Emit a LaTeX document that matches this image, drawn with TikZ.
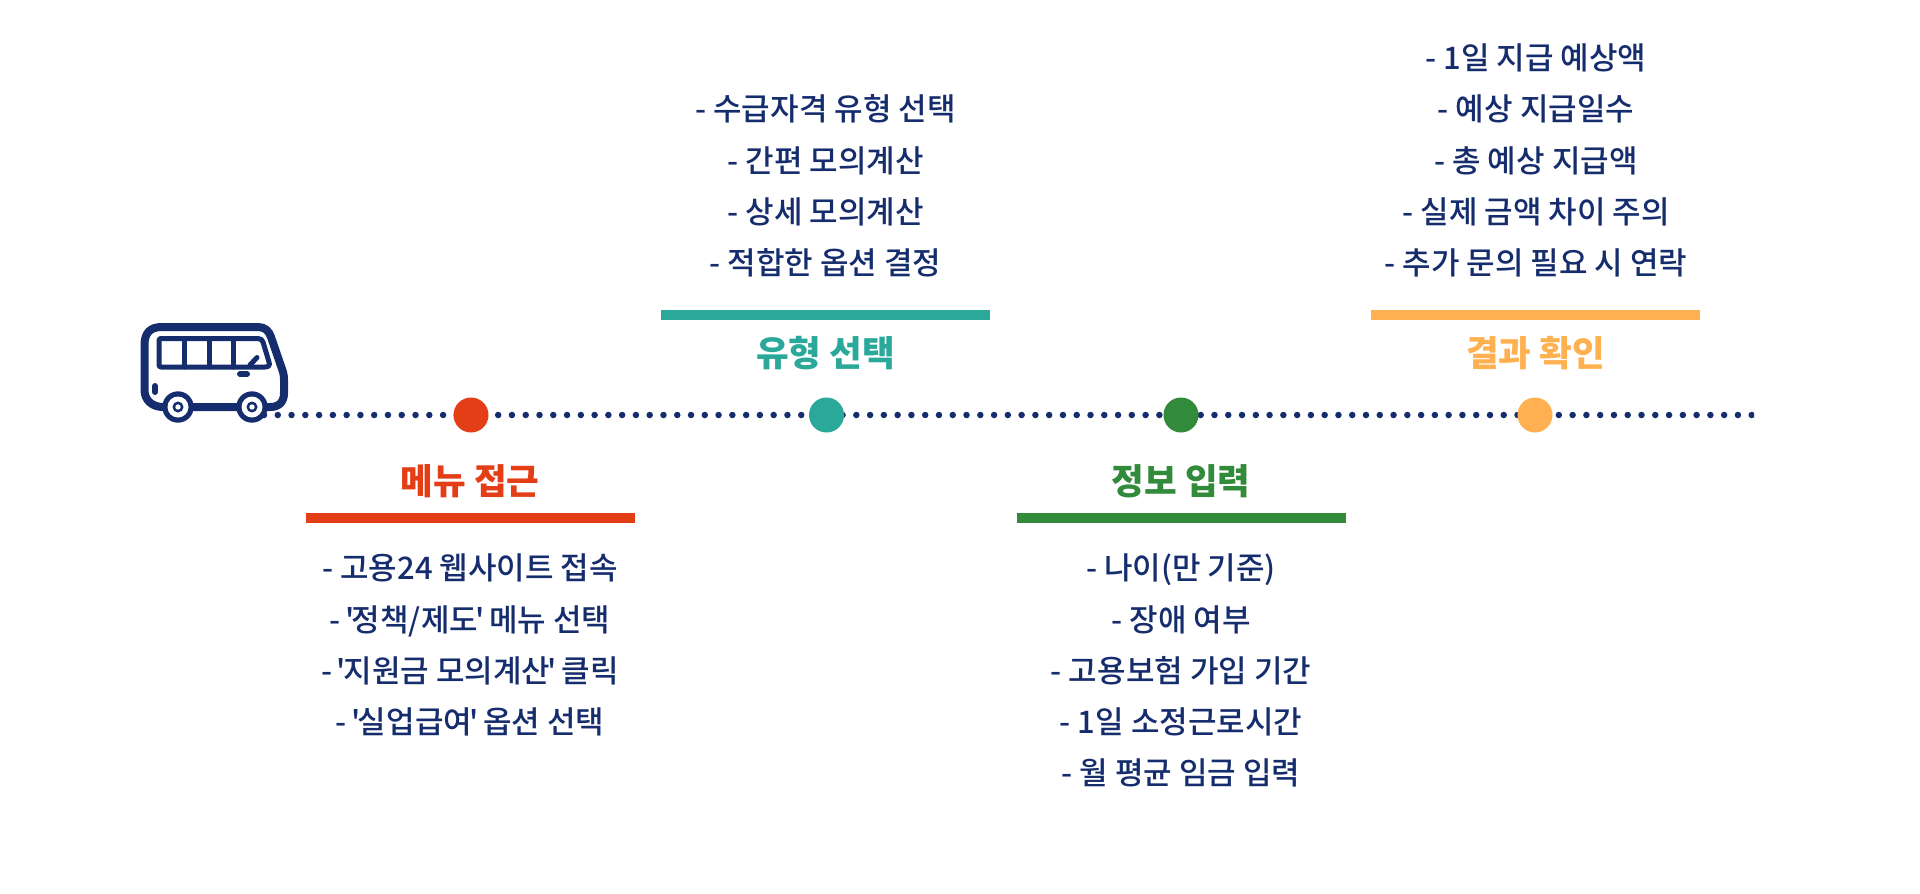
\documentclass[tikz,border=0pt]{standalone}
\usepackage{fontspec}
\setmainfont{Noto Sans CJK KR Medium}[Ligatures=TeXOff]
\newfontfamily\headfont{Noto Sans CJK KR Black}[Ligatures=TeXOff]
\definecolor{navy}{HTML}{162D6D}
\definecolor{cred}{HTML}{E43E17}
\definecolor{cteal}{HTML}{2AA99B}
\definecolor{cgreen}{HTML}{318B3A}
\definecolor{corange}{HTML}{FFB152}
\newcommand{\apos}{\kern-2.5pt'\kern-2.5pt}
\tikzset{
  stopdot/.style={circle,fill=#1,draw=none,minimum size=35pt,inner sep=0pt},
  titlebar/.style={rectangle,fill=#1,draw=none,minimum width=329pt,minimum height=10pt,inner sep=0pt},
  heading/.style={text=#1,font=\fontsize{35.5}{35.5}\selectfont\headfont,inner sep=0pt,anchor=center,text height=30pt,text depth=4pt},
  itemline/.style={text=navy,font=\fontsize{31}{31}\selectfont,inner sep=0pt,anchor=center,text height=27pt,text depth=4pt},
  dotline/.style={navy,line width=6.5pt,line cap=round,dash pattern=on 0pt off 13.775pt},
  busline/.style={navy,line width=8pt,line join=round,line cap=round},
  busthin/.style={navy,line width=5pt,line join=round,line cap=round}
}
\begin{document}
\begin{tikzpicture}[x=1pt,y=-1pt]
\useasboundingbox (0,0) rectangle (1920,894);
\fill[white] (0,0) rectangle (1920,894);
% timeline
\coordinate (linestart) at (264,415);
\coordinate (lineend) at (1754,415);
\begin{scope}
\clip (255,405) rectangle (1754,425);
\draw[dotline] (linestart) -- (lineend);
\end{scope}
\node[stopdot=cred] (s1) at (471,415) {};
\node[stopdot=cteal] (s2) at (826.5,415) {};
\node[stopdot=cgreen] (s3) at (1181,415) {};
\node[stopdot=corange] (s4) at (1535,415) {};
% bus
\draw[busline,fill=white] (144.5,345) .. controls (144.5,333) and (150,327) .. (162,327) -- (258,327)
  .. controls (265,327) and (269,331) .. (271,337) -- (282,369)
  .. controls (283.5,373) and (284,376) .. (284,380) -- (284,393)
  .. controls (284,402) and (279,407) .. (270,407) -- (163,407)
  .. controls (152,407) and (144.5,400) .. (144.5,390) -- cycle;
\draw[busthin] (161,338.5) -- (258,338.5) .. controls (261,338.5) and (262,340) .. (263,342) -- (269,362)
  .. controls (270,365) and (269,367) .. (265,367) -- (161,367)
  .. controls (159.5,367) and (159,366) .. (159,365) -- (159,340.5) .. controls (159,339) and (159.5,338.5) .. (161,338.5) -- cycle;
\draw[busthin] (184,338.5) -- (184,367) (209,338.5) -- (209,367) (233.5,338.5) -- (233.5,367);
\draw[busthin] (250,365) -- (257,357.5);
\draw[navy,line width=6pt,line cap=round] (240,374) -- (247,374);
\draw[navy,line width=6pt,line cap=round] (155,386) -- (155,392);
\foreach \cx in {178,252}{
  \fill[navy] (\cx,407) circle (15.7pt);
  \fill[white] (\cx,407) circle (10.5pt);
  \fill[navy] (\cx,407) circle (5.5pt);
  \fill[white] (\cx,407) circle (2.7pt);
}
% stage 1
\node[heading=cred] (h1) at (470,481) {메뉴 접근};
\node[titlebar=cred] (b1) at (470.5,518) {};
\node[itemline] (a1) at (470,568) {- 고용24 웹사이트 접속};
\node[itemline] (a2) at (470,620) {- \apos 정책/제도\apos{} 메뉴 선택};
\node[itemline] (a3) at (470,671) {- \apos 지원금 모의계산\apos{} 클릭};
\node[itemline] (a4) at (470,722) {- \apos 실업급여\apos{} 옵션 선택};
% stage 2
\node[heading=cteal] (h2) at (825.5,353) {유형 선택};
\node[titlebar=cteal] (b2) at (825.5,315) {};
\node[itemline] (c1) at (825.5,109) {- 수급자격 유형 선택};
\node[itemline] (c2) at (825.5,161) {- 간편 모의계산};
\node[itemline] (c3) at (825.5,212) {- 상세 모의계산};
\node[itemline] (c4) at (825.5,263) {- 적합한 옵션 결정};
% stage 3
\node[heading=cgreen] (h3) at (1181,481) {정보 입력};
\node[titlebar=cgreen] (b3) at (1181.5,518) {};
\node[itemline] (d1) at (1181,568) {- 나이(만 기준)};
\node[itemline] (d2) at (1181,620) {- 장애 여부};
\node[itemline] (d3) at (1181,671) {- 고용보험 가입 기간};
\node[itemline] (d4) at (1181,722) {- 1일 소정근로시간};
\node[itemline] (d5) at (1181,773) {- 월 평균 임금 입력};
% stage 4
\node[heading=corange] (h4) at (1535.5,353) {결과 확인};
\node[titlebar=corange] (b4) at (1535.5,315) {};
\node[itemline] (e1) at (1536,58) {- 1일 지급 예상액};
\node[itemline] (e2) at (1536,109) {- 예상 지급일수};
\node[itemline] (e3) at (1536,161) {- 총 예상 지급액};
\node[itemline] (e4) at (1536,212) {- 실제 금액 차이 주의};
\node[itemline] (e5) at (1536,263) {- 추가 문의 필요 시 연락};
\end{tikzpicture}
\end{document}
